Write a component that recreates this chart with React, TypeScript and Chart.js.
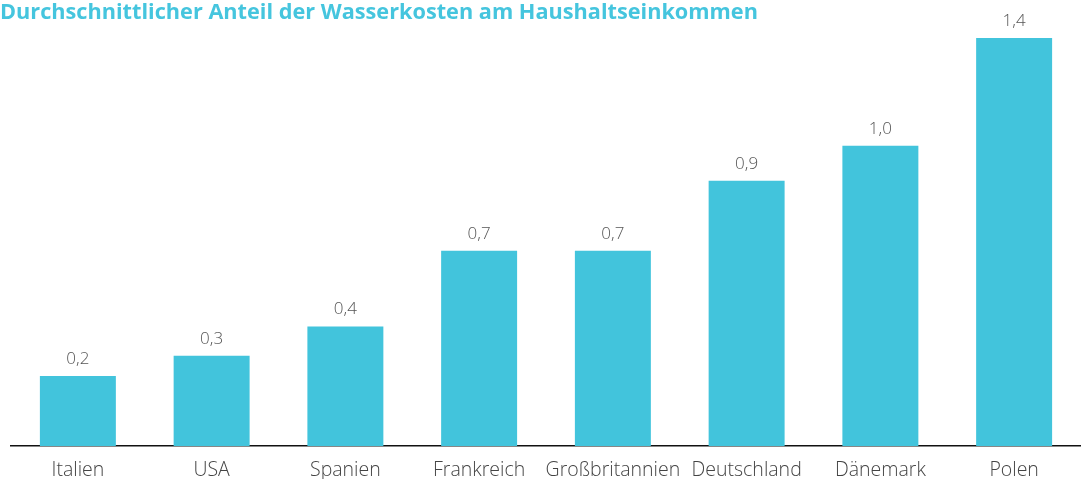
import React, { useEffect, useRef } from "react";
import { Chart, registerables } from "chart.js";

Chart.register(...registerables);

const title = "Durchschnittlicher Anteil der Wasserkosten am Haushaltseinkommen";
const categories = ["Italien", "USA", "Spanien", "Frankreich", "Großbritannien", "Deutschland", "Dänemark", "Polen"];
const shareValues = [0.24, 0.31, 0.41, 0.67, 0.67, 0.91, 1.03, 1.4];
const valueLabels = ["0,2", "0,3", "0,4", "0,7", "0,7", "0,9", "1,0", "1,4"];

const BAR_COLOR = "#42c4dc";
const TITLE_COLOR = "#45c5de";

const titlePlugin = {
  id: "leftTitle",
  afterDraw(chart: any) {
    const ctx = chart.ctx;
    ctx.save();
    ctx.font = 'bold 21.7px "Open Sans", "Liberation Sans", sans-serif';
    ctx.fillStyle = TITLE_COLOR;
    ctx.textAlign = "left";
    ctx.textBaseline = "middle";
    ctx.fillText(title, 0, 13);
    ctx.restore();
  },
};

const valueLabelPlugin = {
  id: "valueLabels",
  afterDatasetsDraw(chart: any) {
    const ctx = chart.ctx;
    const meta = chart.getDatasetMeta(0);
    ctx.save();
    ctx.font = '300 17px "Open Sans", "Liberation Sans", sans-serif';
    ctx.fillStyle = "#555555";
    ctx.textAlign = "center";
    ctx.textBaseline = "middle";
    meta.data.forEach((bar: any, i: number) => {
      ctx.fillText(valueLabels[i], bar.x, bar.y - 17);
    });
    ctx.restore();
  },
};

export default function App() {
  const canvasRef = useRef<HTMLCanvasElement | null>(null);

  useEffect(() => {
    if (!canvasRef.current) return;
    const chart = new Chart(canvasRef.current, {
      type: "bar",
      data: {
        labels: categories,
        datasets: [
          {
            data: shareValues,
            backgroundColor: BAR_COLOR,
            borderWidth: 0,
            barPercentage: 0.568,
            categoryPercentage: 1,
          },
        ],
      },
      options: {
        animation: false,
        responsive: true,
        maintainAspectRatio: false,
        layout: { padding: { left: 11, right: 0, top: 38, bottom: 0 } },
        plugins: {
          legend: { display: false },
          tooltip: { enabled: false },
          title: { display: false },
        },
        scales: {
          x: {
            afterFit(scale: any) {
              scale.height = 33;
            },
            grid: { display: false, drawTicks: false },
            border: { display: true, color: "#111111", width: 1.5 },
            ticks: {
              color: "#444444",
              padding: 13,
              font: { family: '"Open Sans", "Liberation Sans", sans-serif', size: 19.5, weight: "300", lineHeight: 1.2 },
              maxRotation: 0,
              autoSkip: false,
            },
          },
          y: {
            display: false,
            min: 0,
            max: 1.4,
          },
        },
      },
      plugins: [valueLabelPlugin, titlePlugin],
    });
    return () => chart.destroy();
  }, []);

  return (
    <div style={{ position: "absolute", left: 0, top: 0, width: 1081, height: 479 }}>
      <canvas ref={canvasRef} />
    </div>
  );
}
